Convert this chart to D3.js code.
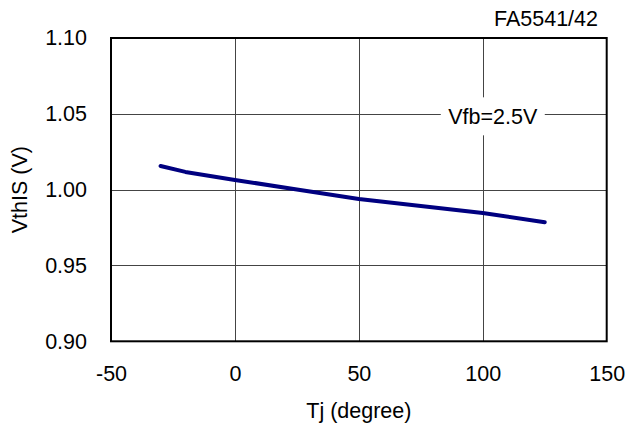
<!DOCTYPE html>
<html>
<head>
<meta charset="utf-8">
<script src="https://cdn.jsdelivr.net/npm/d3@7/dist/d3.min.js"></script>
<style>
  html, body { margin: 0; padding: 0; background: #fff; }
  svg text { font-family: "Liberation Sans", Arial, sans-serif; fill: #000; }
</style>
</head>
<body>
<svg id="chart" width="628" height="425"></svg>
<script>
// ---- data ----
const tj = [-30, -20, 0, 25, 50, 75, 100, 125];
const vthIS = [1.0156, 1.0117, 1.0064, 1.0001, 0.9939, 0.9892, 0.9846, 0.9785];
const xTicks = [-50, 0, 50, 100, 150];
const yTicks = [0.90, 0.95, 1.00, 1.05, 1.10];
const xTitle = "Tj (degree)";
const yTitle = "VthIS (V)";
const partLabel = "FA5541/42";
const condLabel = "Vfb=2.5V";
const condAt = [100, 1.05];

// ---- layout ----
const svg = d3.select("#chart");
const L = 111, R = 606.7, T = 38, B = 341.3;
const fs = 21.5;

const x = d3.scaleLinear().domain([-50, 150]).range([L, R]);
const y = d3.scaleLinear().domain([0.90, 1.10]).range([B, T]);

// grid
const grid = svg.append("g");
grid.selectAll("line.v").data(xTicks.slice(1, -1)).join("line")
  .attr("x1", d => Math.round(x(d)) + 0.5).attr("x2", d => Math.round(x(d)) + 0.5)
  .attr("y1", T).attr("y2", B)
  .attr("stroke", "#444").attr("stroke-width", 1);
grid.selectAll("line.h").data(yTicks.slice(1, -1)).join("line")
  .attr("y1", d => Math.round(y(d)) + 0.5).attr("y2", d => Math.round(y(d)) + 0.5)
  .attr("x1", L).attr("x2", R)
  .attr("stroke", "#444").attr("stroke-width", 1);

// condition label with white box
const cx = x(condAt[0]) + 10;
const cy = y(condAt[1]) + 2.5;
svg.append("rect")
  .attr("x", cx - 52).attr("y", cy - 19).attr("width", 104).attr("height", 38)
  .attr("fill", "#fff");
svg.append("text")
  .attr("x", cx).attr("y", cy + 8)
  .attr("text-anchor", "middle").attr("font-size", fs)
  .text(condLabel);

// curve
const line = d3.line().x(d => x(d[0])).y(d => y(d[1]));
svg.append("path")
  .datum(tj.map((t, i) => [t, vthIS[i]]))
  .attr("d", line)
  .attr("fill", "none")
  .attr("stroke", "#000080")
  .attr("stroke-width", 4)
  .attr("stroke-linecap", "round")
  .attr("stroke-linejoin", "round");

// frame
svg.append("rect")
  .attr("x", L).attr("y", T).attr("width", R - L).attr("height", B - T)
  .attr("fill", "none").attr("stroke", "#000").attr("stroke-width", 2);

// axes (labels only, via d3 axes)
const xAxis = svg.append("g").attr("transform", `translate(0,${B})`)
  .call(d3.axisBottom(x).tickValues(xTicks).tickFormat(d => String(d)).tickSize(0).tickPadding(24));
xAxis.select(".domain").remove();
xAxis.selectAll("text").attr("font-size", fs).attr("font-family", "Liberation Sans, Arial, sans-serif").attr("fill", "#000");

const yAxis = svg.append("g").attr("transform", `translate(${L},0)`)
  .call(d3.axisLeft(y).tickValues(yTicks).tickFormat(d => d.toFixed(2)).tickSize(0).tickPadding(24));
yAxis.select(".domain").remove();
yAxis.selectAll("text").attr("font-size", fs).attr("font-family", "Liberation Sans, Arial, sans-serif").attr("fill", "#000");

// titles
svg.append("text")
  .attr("x", (L + R) / 2).attr("y", 418)
  .attr("text-anchor", "middle").attr("font-size", fs)
  .text(xTitle);
svg.append("text")
  .attr("transform", `translate(27,${(T + B) / 2}) rotate(-90)`)
  .attr("text-anchor", "middle").attr("font-size", fs)
  .text(yTitle);
svg.append("text")
  .attr("x", 598).attr("y", 26)
  .attr("text-anchor", "end").attr("font-size", fs)
  .text(partLabel);
</script>
</body>
</html>
